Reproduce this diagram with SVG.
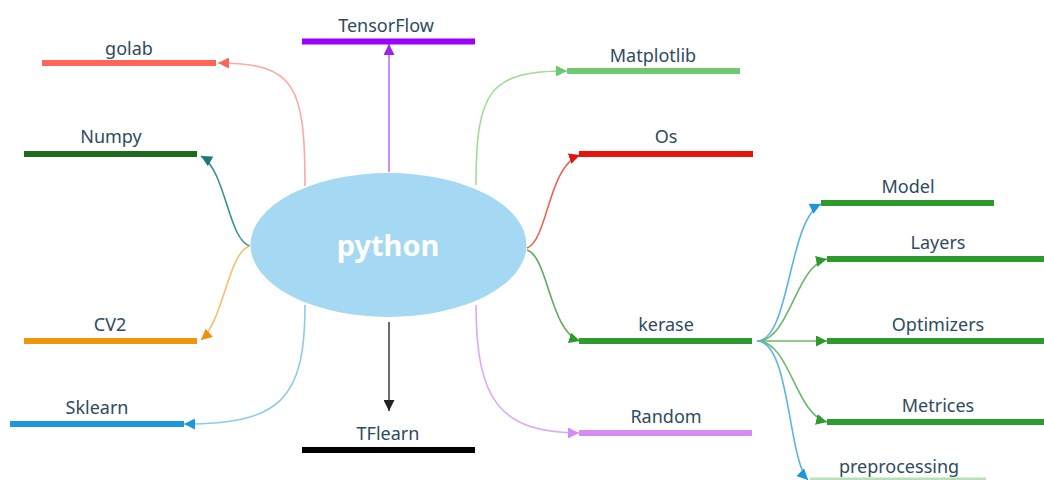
<svg xmlns="http://www.w3.org/2000/svg" width="1044" height="480" viewBox="0 0 1044 480">
  <style>
    .lbl { font-family: "Noto Sans", "Open Sans", sans-serif; font-size: 18px; fill: #2d4b5f; text-anchor: middle; }
    .bar { stroke-width: 6; fill: none; }
    .link { fill: none; stroke-width: 1.6; }
    .root { font-family: "Noto Sans", "Open Sans", sans-serif; font-size: 29px; font-weight: bold; fill: #ffffff; text-anchor: middle; }
  </style>
  <defs>
    <marker id="a-salmon" viewBox="0 0 10 10" refX="10" refY="5" markerWidth="11" markerHeight="11" markerUnits="userSpaceOnUse" orient="auto"><path d="M0,0 L10,5 L0,10 z" fill="#f06a5c"/></marker>
    <marker id="a-teal" viewBox="0 0 10 10" refX="10" refY="5" markerWidth="11" markerHeight="11" markerUnits="userSpaceOnUse" orient="auto"><path d="M0,0 L10,5 L0,10 z" fill="#1a7a7a"/></marker>
    <marker id="a-purple" viewBox="0 0 10 10" refX="10" refY="5" markerWidth="11" markerHeight="11" markerUnits="userSpaceOnUse" orient="auto"><path d="M0,0 L10,5 L0,10 z" fill="#a020f0"/></marker>
    <marker id="a-lgreen" viewBox="0 0 10 10" refX="10" refY="5" markerWidth="11" markerHeight="11" markerUnits="userSpaceOnUse" orient="auto"><path d="M0,0 L10,5 L0,10 z" fill="#6cc86c"/></marker>
    <marker id="a-red" viewBox="0 0 10 10" refX="10" refY="5" markerWidth="11" markerHeight="11" markerUnits="userSpaceOnUse" orient="auto"><path d="M0,0 L10,5 L0,10 z" fill="#e81010"/></marker>
    <marker id="a-green" viewBox="0 0 10 10" refX="10" refY="5" markerWidth="11" markerHeight="11" markerUnits="userSpaceOnUse" orient="auto"><path d="M0,0 L10,5 L0,10 z" fill="#2e9a2e"/></marker>
    <marker id="a-lilac" viewBox="0 0 10 10" refX="10" refY="5" markerWidth="11" markerHeight="11" markerUnits="userSpaceOnUse" orient="auto"><path d="M0,0 L10,5 L0,10 z" fill="#d68cf5"/></marker>
    <marker id="a-orange" viewBox="0 0 10 10" refX="10" refY="5" markerWidth="11" markerHeight="11" markerUnits="userSpaceOnUse" orient="auto"><path d="M0,0 L10,5 L0,10 z" fill="#f09010"/></marker>
    <marker id="a-blue" viewBox="0 0 10 10" refX="10" refY="5" markerWidth="11" markerHeight="11" markerUnits="userSpaceOnUse" orient="auto"><path d="M0,0 L10,5 L0,10 z" fill="#1e96dc"/></marker>
    <marker id="a-black" viewBox="0 0 10 10" refX="10" refY="5" markerWidth="11" markerHeight="11" markerUnits="userSpaceOnUse" orient="auto"><path d="M0,0 L10,5 L0,10 z" fill="#222222"/></marker>
  </defs>

  <rect width="1044" height="480" fill="#ffffff"/>

  <!-- connectors -->
  <g id="connectors">
    <path class="link" stroke="#ffa8a0" d="M305,186 C305,85 295,63 218,63" marker-end="url(#a-salmon)"/>
    <path class="link" stroke="#3a9090" d="M250,246 C228,240 226,170 201,156" marker-end="url(#a-teal)"/>
    <path class="link" stroke="#c070ff" d="M389,172 L389,44" marker-end="url(#a-purple)"/>
    <path class="link" stroke="#a0dc98" d="M476,185 C476,90 490,71 567,71" marker-end="url(#a-lgreen)"/>
    <path class="link" stroke="#f06050" d="M527,248 C548,240 548,166 580,155" marker-end="url(#a-red)"/>
    <path class="link" stroke="#60aa60" d="M527,250 C548,256 550,332 580,341" marker-end="url(#a-green)"/>
    <path class="link" stroke="#dca8ff" d="M476,305 C476,400 500,433 579,433" marker-end="url(#a-lilac)"/>
    <path class="link" stroke="#444444" d="M389,322 L389,411" marker-end="url(#a-black)"/>
    <path class="link" stroke="#f5c070" d="M250,246 C228,252 224,320 201,340" marker-end="url(#a-orange)"/>
    <path class="link" stroke="#8ccaee" d="M305,305 C305,400 280,424 184,424" marker-end="url(#a-blue)"/>
    <!-- kerase branches -->
    <path class="link" stroke="#5ab4e6" d="M757,341 C790,341 788,220 821,204" marker-end="url(#a-blue)"/>
    <path class="link" stroke="#6ab86a" d="M757,341 C790,341 795,266 827,259" marker-end="url(#a-green)"/>
    <path class="link" stroke="#6ab86a" d="M757,341 L827,341" marker-end="url(#a-green)"/>
    <path class="link" stroke="#6ab86a" d="M757,341 C790,341 795,414 827,422" marker-end="url(#a-green)"/>
    <path class="link" stroke="#5ab4e6" d="M757,341 C790,341 788,460 808,480" marker-end="url(#a-blue)"/>
  </g>

  <g id="python">
    <ellipse cx="388.5" cy="245" rx="138" ry="72" fill="#a5d8f2"/>
    <text class="root" x="388" y="256">python</text>
  </g>

  <g id="golab">
    <line class="bar" x1="42" y1="63" x2="216" y2="63" stroke="#ff6655"/>
    <text class="lbl" x="129" y="55">golab</text>
  </g>
  <g id="numpy">
    <line class="bar" x1="24" y1="154" x2="197" y2="154" stroke="#1e6b1e"/>
    <text class="lbl" x="111" y="143">Numpy</text>
  </g>
  <g id="tensorflow">
    <line class="bar" x1="302" y1="41.5" x2="475" y2="41.5" stroke="#9b00ff"/>
    <text class="lbl" x="386" y="32">TensorFlow</text>
  </g>
  <g id="matplotlib">
    <line class="bar" x1="567" y1="71" x2="740" y2="71" stroke="#70c870"/>
    <text class="lbl" x="653" y="62">Matplotlib</text>
  </g>
  <g id="os">
    <line class="bar" x1="579" y1="154" x2="753" y2="154" stroke="#e8140a"/>
    <text class="lbl" x="666" y="143">Os</text>
  </g>
  <g id="kerase">
    <line class="bar" x1="579" y1="341" x2="752" y2="341" stroke="#2e9a2e"/>
    <text class="lbl" x="666" y="331">kerase</text>
  </g>
  <g id="random">
    <line class="bar" x1="579" y1="433" x2="752" y2="433" stroke="#d68cf5"/>
    <text class="lbl" x="666" y="423">Random</text>
  </g>
  <g id="tflearn">
    <line class="bar" x1="302" y1="450" x2="475" y2="450" stroke="#000000"/>
    <text class="lbl" x="388" y="440">TFlearn</text>
  </g>
  <g id="cv2">
    <line class="bar" x1="24" y1="341" x2="197" y2="341" stroke="#f0960a"/>
    <text class="lbl" x="110" y="331">CV2</text>
  </g>
  <g id="sklearn">
    <line class="bar" x1="10" y1="424" x2="184" y2="424" stroke="#1e96dc"/>
    <text class="lbl" x="97" y="414">Sklearn</text>
  </g>
  <g id="model">
    <line class="bar" x1="821" y1="203" x2="994" y2="203" stroke="#2e9a2e"/>
    <text class="lbl" x="908" y="193">Model</text>
  </g>
  <g id="layers">
    <line class="bar" x1="827" y1="259" x2="1044" y2="259" stroke="#2e9a2e"/>
    <text class="lbl" x="938" y="249">Layers</text>
  </g>
  <g id="optimizers">
    <line class="bar" x1="827" y1="341" x2="1044" y2="341" stroke="#2e9a2e"/>
    <text class="lbl" x="938" y="331">Optimizers</text>
  </g>
  <g id="metrices">
    <line class="bar" x1="827" y1="422" x2="1044" y2="422" stroke="#2e9a2e"/>
    <text class="lbl" x="938" y="412">Metrices</text>
  </g>
  <g id="preprocessing">
    <line x1="810" y1="479" x2="986" y2="479" stroke="#b8e0b8" stroke-width="3"/>
    <text class="lbl" x="899" y="473">preprocessing</text>
  </g>
</svg>
